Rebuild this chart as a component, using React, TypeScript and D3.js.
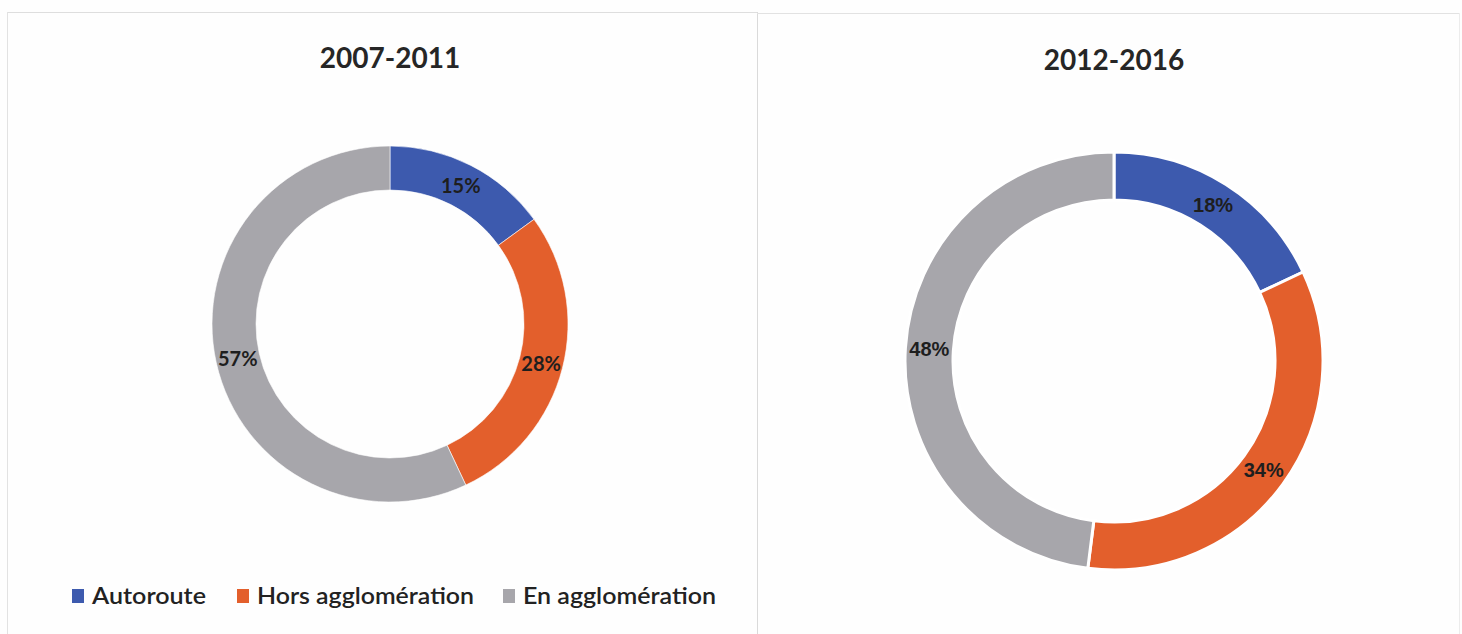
import React from "react";
import * as d3 from "d3";

const categories = ["Autoroute", "Hors agglomération", "En agglomération"];
const periods = ["2007-2011", "2012-2016"];
const values2007 = [15, 28, 57];
const values2012 = [18, 34, 48];
const colors = ["#3d5aae", "#e35f2c", "#a7a6ab"];

const W = 1462;
const H = 634;

type DonutProps = {
  cx: number;
  cy: number;
  outer: number;
  inner: number;
  values: number[];
  title: string;
  titleY: number;
  sep: number;
  labelFont: string;
  labelSize: number;
};

function Donut({ cx, cy, outer, inner, values, title, titleY, sep, labelFont, labelSize }: DonutProps) {
  const pie = d3.pie<number>().sort(null).value((d) => d);
  const arcs = pie(values);
  const arc = d3.arc<d3.PieArcDatum<number>>().innerRadius(inner).outerRadius(outer);
  const total = d3.sum(values);
  return (
    <g>
      <text
        x={cx}
        y={titleY}
        textAnchor="middle"
        fontFamily="Lato, 'Open Sans', sans-serif"
        fontWeight={700}
        fontSize={28}
        fill="#262626"
      >
        {title}
      </text>
      <g transform={`translate(${cx},${cy})`}>
        {arcs.map((a, i) => (
          <path key={i} d={arc(a) || ""} fill={colors[i]} stroke="#ffffff" strokeWidth={sep} />
        ))}
        {arcs.map((a, i) => {
          const [x, y] = arc.centroid(a);
          return (
            <text
              key={"l" + i}
              x={x}
              y={y}
              textAnchor="middle"
              dominantBaseline="central"
              fontFamily={labelFont}
              fontWeight={700}
              fontSize={labelSize}
              fill="#1e1e1e"
            >
              {Math.round((a.data / total) * 100)}%
            </text>
          );
        })}
      </g>
    </g>
  );
}

export default function App() {
  const legendX = [72, 237, 503];
  const legendTextW = [114, 217, 193];
  const legendY = 597;
  return (
    <svg
      width={W}
      height={H}
      viewBox={`0 0 ${W} ${H}`}
      style={{ position: "absolute", left: 0, top: 0, background: "#ffffff" }}
    >
      <rect x={0} y={0} width={W} height={H} fill="#fefefe" />
      {/* panel borders */}
      <line x1={7} y1={12.5} x2={757} y2={12.5} stroke="#dedede" strokeWidth={1} />
      <line x1={7.5} y1={12} x2={7.5} y2={H} stroke="#e2e2e2" strokeWidth={1} />
      <line x1={757.5} y1={12} x2={757.5} y2={H} stroke="#dadada" strokeWidth={1} />
      <line x1={757} y1={13.5} x2={1460} y2={13.5} stroke="#e2e2e2" strokeWidth={1} />
      <line x1={1459.5} y1={13} x2={1459.5} y2={H} stroke="#ececec" strokeWidth={1} />

      <Donut
        cx={390}
        cy={324}
        outer={178}
        inner={134}
        values={values2007}
        title={periods[0]}
        titleY={68}
        sep={0.6}
        labelFont="Lato, 'Open Sans', sans-serif"
        labelSize={20}
      />
      <Donut
        cx={1114}
        cy={361}
        outer={209}
        inner={161}
        values={values2012}
        title={periods[1]}
        titleY={70}
        sep={3}
        labelFont="'Liberation Sans', Arial, sans-serif"
        labelSize={20}
      />

      {categories.map((c, i) => (
        <g key={c}>
          <rect x={legendX[i]} y={legendY - 8} width={12} height={14} fill={colors[i]} />
          <text
            x={legendX[i] + 20}
            y={legendY + 7}
            fontFamily="Lato, 'Open Sans', sans-serif"
            fontWeight={600}
            fontSize={22}
            fill="#222222"
            textLength={legendTextW[i]}
            lengthAdjust="spacingAndGlyphs"
          >
            {c}
          </text>
        </g>
      ))}
    </svg>
  );
}
